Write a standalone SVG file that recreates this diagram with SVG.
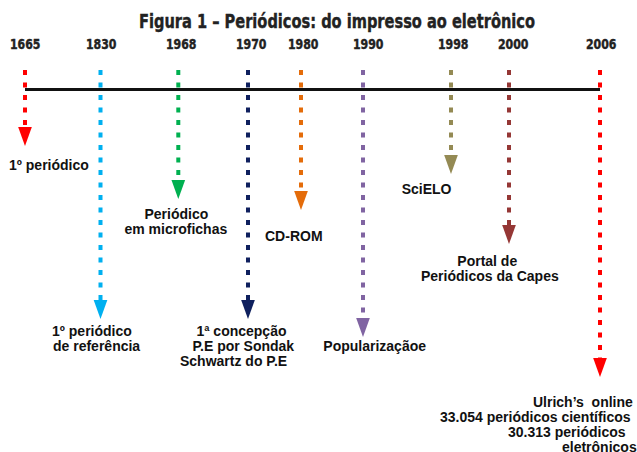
<svg xmlns="http://www.w3.org/2000/svg" width="637" height="452" viewBox="0 0 637 452">
<style>
.title{font-family:"Liberation Sans Narrow","DejaVu Sans Condensed","Liberation Sans",sans-serif;font-weight:bold;font-size:20px;fill:#222;stroke:#222;stroke-width:0.4}
.year{font-family:"Liberation Sans Narrow","DejaVu Sans Condensed","Liberation Sans",sans-serif;font-weight:bold;font-size:13.5px;fill:#222;stroke:#222;stroke-width:0.4}
.lbl{font-family:"Liberation Sans",Arial,sans-serif;font-weight:bold;font-size:14px;fill:#111}
.dash{fill:none;stroke-width:4;stroke-dasharray:5 7.5}
</style>
<defs>
<marker id="mRed" markerUnits="userSpaceOnUse" markerWidth="20" markerHeight="20" viewBox="0 -7 19 14" refX="0" refY="0" orient="auto"><path d="M0,-6.5L18,0L0,6.5z" fill="#FF0000"/></marker>
<marker id="mBlue" markerUnits="userSpaceOnUse" markerWidth="20" markerHeight="20" viewBox="0 -7 19 14" refX="0" refY="0" orient="auto"><path d="M0,-6.5L18,0L0,6.5z" fill="#00B0F0"/></marker>
<marker id="mGreen" markerUnits="userSpaceOnUse" markerWidth="20" markerHeight="20" viewBox="0 -7 19 14" refX="0" refY="0" orient="auto"><path d="M0,-6.5L18,0L0,6.5z" fill="#00B050"/></marker>
<marker id="mNavy" markerUnits="userSpaceOnUse" markerWidth="20" markerHeight="20" viewBox="0 -7 19 14" refX="0" refY="0" orient="auto"><path d="M0,-6.5L18,0L0,6.5z" fill="#0F205E"/></marker>
<marker id="mOrange" markerUnits="userSpaceOnUse" markerWidth="20" markerHeight="20" viewBox="0 -7 19 14" refX="0" refY="0" orient="auto"><path d="M0,-6.5L18,0L0,6.5z" fill="#E46C0A"/></marker>
<marker id="mPurple" markerUnits="userSpaceOnUse" markerWidth="20" markerHeight="20" viewBox="0 -7 19 14" refX="0" refY="0" orient="auto"><path d="M0,-6.5L18,0L0,6.5z" fill="#8064A2"/></marker>
<marker id="mOlive" markerUnits="userSpaceOnUse" markerWidth="20" markerHeight="20" viewBox="0 -7 19 14" refX="0" refY="0" orient="auto"><path d="M0,-6.5L18,0L0,6.5z" fill="#948A54"/></marker>
<marker id="mDkRed" markerUnits="userSpaceOnUse" markerWidth="20" markerHeight="20" viewBox="0 -7 19 14" refX="0" refY="0" orient="auto"><path d="M0,-6.5L18,0L0,6.5z" fill="#953735"/></marker>
</defs>
<rect width="637" height="452" fill="#ffffff"/>
<text id="title" class="title" x="139" y="27.5" textLength="396" lengthAdjust="spacingAndGlyphs">Figura 1 – Periódicos: do impresso ao eletrônico</text>

<g id="connectors">
<line id="timeline" x1="25" y1="89.5" x2="600" y2="89.5" stroke="#111" stroke-width="3"/>
<line class="dash" x1="25" y1="70" x2="25" y2="127" stroke="#FF0000" marker-end="url(#mRed)"/>
<line class="dash" x1="100.5" y1="70" x2="100.5" y2="300" stroke="#00B0F0" marker-end="url(#mBlue)"/>
<line class="dash" x1="178.3" y1="70" x2="178.3" y2="180" stroke="#00B050" marker-end="url(#mGreen)"/>
<line class="dash" x1="248" y1="70" x2="248" y2="300" stroke="#0F205E" marker-end="url(#mNavy)"/>
<line class="dash" x1="301" y1="70" x2="301" y2="191" stroke="#E46C0A" marker-end="url(#mOrange)"/>
<line class="dash" x1="363" y1="70" x2="363" y2="318" stroke="#8064A2" marker-end="url(#mPurple)"/>
<line class="dash" x1="451" y1="70" x2="451" y2="155" stroke="#948A54" marker-end="url(#mOlive)"/>
<line class="dash" x1="509" y1="70" x2="509" y2="225" stroke="#953735" marker-end="url(#mDkRed)"/>
<line class="dash" x1="600" y1="70" x2="600" y2="358" stroke="#FF0000" marker-end="url(#mRed)"/>
</g>

<g id="n1665">
<text class="year" x="10" y="49" textLength="30.5" lengthAdjust="spacingAndGlyphs">1665</text>
<text class="lbl" x="9" y="170">1º periódico</text>
</g>
<g id="n1830">
<text class="year" x="86" y="49" textLength="30.5" lengthAdjust="spacingAndGlyphs">1830</text>
<text class="lbl" x="52" y="336">1º periódico</text>
<text class="lbl" x="53" y="351">de referência</text>
</g>
<g id="n1968">
<text class="year" x="166" y="49" textLength="30.5" lengthAdjust="spacingAndGlyphs">1968</text>
<text class="lbl" x="144.5" y="218.5">Periódico</text>
<text class="lbl" x="124.5" y="233.5">em microfichas</text>
</g>
<g id="n1970">
<text class="year" x="236" y="49" textLength="30.5" lengthAdjust="spacingAndGlyphs">1970</text>
<text class="lbl" x="196.5" y="336">1ª concepção</text>
<text class="lbl" x="192.5" y="351">P.E por Sondak</text>
<text class="lbl" x="180" y="366">Schwartz do P.E</text>
</g>
<g id="n1980">
<text class="year" x="288" y="49" textLength="30.5" lengthAdjust="spacingAndGlyphs">1980</text>
<text class="lbl" x="265" y="241">CD-ROM</text>
</g>
<g id="n1990">
<text class="year" x="353" y="49" textLength="30.5" lengthAdjust="spacingAndGlyphs">1990</text>
<text class="lbl" x="323.3" y="351">Popularizaçãoe</text>
</g>
<g id="n1998">
<text class="year" x="438" y="49" textLength="30.5" lengthAdjust="spacingAndGlyphs">1998</text>
<text class="lbl" x="401.7" y="194">SciELO</text>
</g>
<g id="n2000">
<text class="year" x="498" y="49" textLength="30.5" lengthAdjust="spacingAndGlyphs">2000</text>
<text class="lbl" x="457.3" y="265.5">Portal de</text>
<text class="lbl" x="421" y="281">Periódicos da Capes</text>
</g>
<g id="n2006">
<text class="year" x="586" y="49" textLength="30.5" lengthAdjust="spacingAndGlyphs">2006</text>
<text class="lbl" x="533" y="407" xml:space="preserve">Ulrich’s  online</text>
<text class="lbl" x="440" y="422">33.054 periódicos científicos</text>
<text class="lbl" x="508" y="437">30.313 periódicos</text>
<text class="lbl" x="562" y="452">eletrônicos</text>
</g>
</svg>
